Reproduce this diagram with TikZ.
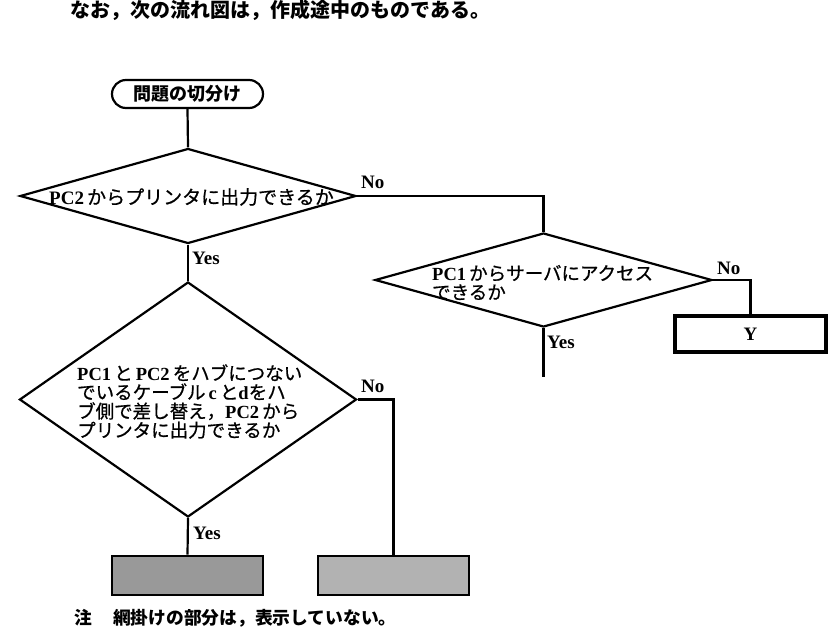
\documentclass[tikz,border=0pt]{standalone}
\usepackage{fontspec}
\setmainfont{Liberation Serif}
\newfontfamily\jp{Noto Sans CJK JP}
\newfontfamily\jpm[FakeBold=0.7]{Noto Sans CJK JP}
\usetikzlibrary{shapes.geometric}
\newcommand\lat[1]{{\rmfamily\bfseries #1}}
\begin{document}
\begin{tikzpicture}[x=1pt,y=-1pt,
  conn/.style={line width=2.2pt},
  dia/.style={diamond, draw, line width=2.2pt, inner sep=0pt},
  jtext/.style={font=\jpm\fontsize{18.5}{19}\selectfont, inner sep=0pt, align=left},
  lbl/.style={font=\rmfamily\bfseries\fontsize{19}{19}\selectfont, inner sep=0pt, anchor=west},
  hatchbox/.style={draw, line width=2.6pt, minimum width=151pt, minimum height=39pt, inner sep=0pt},
]
\useasboundingbox (0,0) rectangle (829,640);

% title
\node[anchor=west, inner sep=0pt, font=\jp\bfseries\fontsize{20}{20}\selectfont] (title) at (70,10.5) {なお，次の流れ図は，作成途中のものである。};

% start terminal
\node[draw, line width=2.2pt, rounded corners=14pt, minimum width=151pt, minimum height=28pt, inner sep=0pt,
      font=\jp\bfseries\fontsize{18}{18}\selectfont] (start) at (187.5,94) {問題の切分け};

% diamond 1
\node[dia, minimum width=336pt, minimum height=95pt] (d1) at (188,196) {};
\node[jtext, font=\jpm\fontsize{19}{19}\selectfont] (t1) at (191.5,197) {\lat{PC2}\,からプリンタに出力できるか};

% diamond 2
\node[dia, minimum width=337pt, minimum height=94pt] (d2) at (543.5,280) {};
\node[jtext, anchor=west] (t2) at (432,282.5) {\lat{PC1}\,からサーバにアクセス\\できるか};

% diamond 3
\node[dia, minimum width=337pt, minimum height=235pt] (d3) at (188,399.5) {};
\node[jtext, anchor=west] (t3) at (77,401.5) {\lat{PC1}\,と\,\lat{PC2}\,をハブにつない\\でいるケーブル\,\lat{c}\,と\lat{d}をハ\\ブ側で差し替え，\lat{PC2}\,から\\プリンタに出力できるか};

% boxes
\node[draw, line width=3.5pt, minimum width=151pt, minimum height=36pt, inner sep=0pt,
      font=\rmfamily\bfseries\fontsize{19}{19}\selectfont] (yb) at (750.5,334) {Y};
\node[hatchbox, fill=black!40] (b1) at (187.5,575.5) {};
\node[hatchbox, fill=black!30] (b2) at (393.5,575.5) {};
\coordinate (e2) at (543.5,377);

% connectors
\draw[conn] (start.south) -- (d1.north);
\draw[conn] (d1.east) -| (d2.north);
\draw[conn] (d1.south) -- (d3.north);
\draw[conn] (d2.east) -| (yb.north);
\draw[conn] (d2.south) -- (e2);
\draw[conn] (d3.east) -| (b2.north);
\draw[conn] (d3.south) -- (b1.north);

% labels
\node[lbl] (n1) at (361,182) {No};
\node[lbl] (y1) at (192,258) {Yes};
\node[lbl] (n2) at (717,268) {No};
\node[lbl] (y2) at (547,342) {Yes};
\node[lbl] (n3) at (361,386) {No};
\node[lbl] (y3) at (193,533) {Yes};

% note
\node[inner sep=0pt, font=\jp\bfseries\fontsize{17.75}{17.75}\selectfont] (note1) at (83.5,618) {注};
\node[anchor=west, inner sep=0pt, font=\jp\bfseries\fontsize{17.75}{17.75}\selectfont] (note2) at (113,618) {網掛けの部分は，表示していない。};
\end{tikzpicture}
\end{document}
